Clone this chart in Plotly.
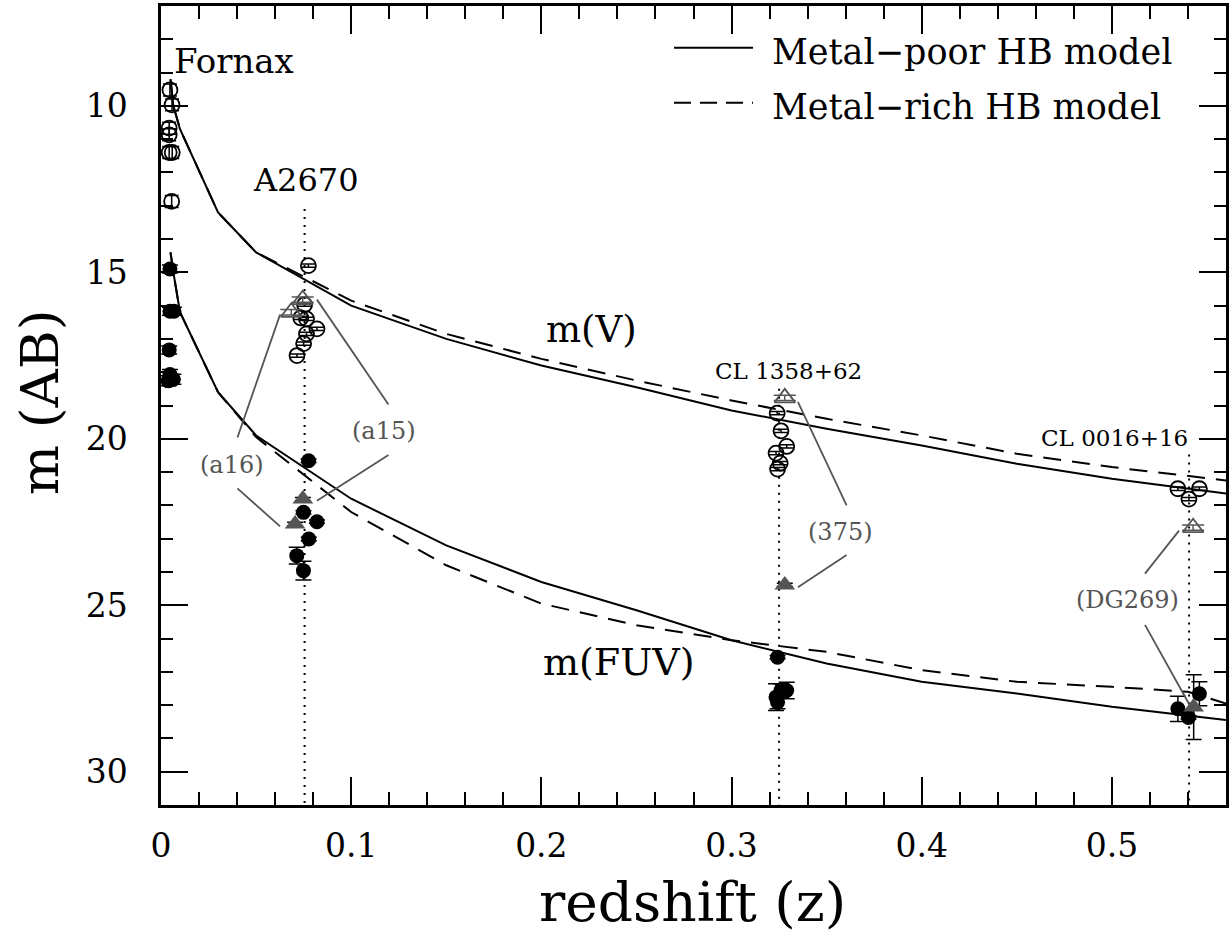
import plotly.graph_objects as go

# ---------------- data ----------------
# HB models (apparent AB magnitude vs redshift)
model_z = [0.005, 0.0065, 0.01, 0.03, 0.05, 0.1, 0.15, 0.2, 0.25, 0.3, 0.35, 0.4, 0.45, 0.5, 0.56]
v_poor = [9.2, 10.0, 10.7, 13.2, 14.4, 16.0, 17.0, 17.8, 18.45, 19.15, 19.7, 20.2, 20.75, 21.2, 21.64]
v_rich = [9.2, 10.0, 10.7, 13.2, 14.4, 15.85, 16.85, 17.6, 18.25, 18.85, 19.4, 19.9, 20.45, 20.85, 21.25]
fuv_poor = [14.4, 15.0, 16.2, 18.6, 19.9, 21.8, 23.2, 24.3, 25.15, 26.05, 26.75, 27.3, 27.65, 28.05, 28.45]
rich_fuv_z = [0.005, 0.0065, 0.01, 0.03, 0.05, 0.1, 0.15, 0.2, 0.25, 0.3, 0.35, 0.4, 0.45, 0.5, 0.54, 0.56]
fuv_rich = [14.4, 15.0, 16.2, 18.6, 19.95, 22.2, 23.8, 24.95, 25.6, 26.05, 26.4, 26.95, 27.3, 27.45, 27.6, 27.95]

# Observed V (open circles)
obs_v_z = [0.0047, 0.0058, 0.0043, 0.0043, 0.0043, 0.0059, 0.0056,
           0.0775, 0.0755, 0.0735, 0.0765, 0.082, 0.0765, 0.075, 0.0715,
           0.324, 0.326, 0.329, 0.3234, 0.3256, 0.3242,
           0.5347, 0.546, 0.5405]
obs_v_m = [9.52, 9.97, 10.67, 10.87, 11.4, 11.4, 12.87,
           14.8, 15.97, 16.37, 16.4, 16.7, 16.85, 17.14, 17.5,
           19.23, 19.76, 20.23, 20.43, 20.73, 20.91,
           21.5, 21.5, 21.81]
obs_v_err = [0.18, 0.18, 0.18, 0.18, 0.18, 0.18, 0.18,
             0.05, 0.05, 0.05, 0.05, 0.05, 0.05, 0.05, 0.05,
             0.05, 0.05, 0.05, 0.05, 0.05, 0.05,
             0.05, 0.05, 0.05]

# Observed FUV (filled circles)
obs_fuv_z = [0.0047, 0.0047, 0.0068, 0.0043, 0.0047, 0.0038, 0.0065,
             0.0776, 0.0749, 0.082, 0.0777, 0.0714, 0.0749,
             0.3242, 0.326, 0.329, 0.3234, 0.3242,
             0.5347, 0.546, 0.5403]
obs_fuv_m = [14.9, 16.17, 16.17, 17.33, 18.07, 18.26, 18.21,
             20.66, 22.21, 22.49, 23.01, 23.51, 23.96,
             26.56, 27.56, 27.56, 27.76, 27.91,
             28.11, 27.66, 28.37]
obs_fuv_err = [0.12, 0.12, 0.12, 0.12, 0.15, 0.15, 0.15,
               0.05, 0.05, 0.05, 0.05, 0.25, 0.28,
               0.05, 0.2, 0.25, 0.4, 0.2,
               0.38, 0.36, 0.05]

# Individual galaxies (a16, a15, 375, DG269): V open triangles, FUV filled triangles
tri_names = ["a16", "a15", "375", "DG269"]
tri_z = [0.0685, 0.0745, 0.328, 0.5427]
tri_v = [16.2, 15.82, 18.77, 22.67]
tri_v_err = [0.08, 0.08, 0.08, 0.08]
tri_fuv_z = [0.0705, 0.0746, 0.328, 0.543]
tri_fuv = [22.56, 21.81, 24.39, 28.06]
tri_fuv_err = [0.05, 0.05, 0.05, 0.97]

# Clusters marked with dotted lines
cluster_names = ["A2670", "CL 1358+62", "CL 0016+16"]
cluster_z = [0.0755, 0.325, 0.5406]
cluster_line_top = [13.1, 18.5, 20.47]

# ---------------- figure ----------------
FONT = "DejaVu Serif"
GRAY = "#555555"
fig = go.Figure()

fig.add_trace(go.Scatter(x=model_z, y=v_poor, mode="lines",
                         line=dict(color="black", width=2), showlegend=False))
fig.add_trace(go.Scatter(x=model_z, y=v_rich, mode="lines",
                         line=dict(color="black", width=2, dash="18px,11px"), showlegend=False))
fig.add_trace(go.Scatter(x=model_z, y=fuv_poor, mode="lines",
                         line=dict(color="black", width=2), showlegend=False))
fig.add_trace(go.Scatter(x=rich_fuv_z, y=fuv_rich, mode="lines",
                         line=dict(color="black", width=2, dash="18px,11px"), showlegend=False))

# cluster dotted lines
for z, top in zip(cluster_z, cluster_line_top):
    fig.add_trace(go.Scatter(x=[z, z], y=[top, 31.0], mode="lines",
                             line=dict(color="black", width=2, dash="2px,6px"),
                             showlegend=False))

fig.add_trace(go.Scatter(x=obs_v_z, y=obs_v_m, mode="markers",
                         marker=dict(symbol="circle-open", size=15, color="black",
                                     line=dict(width=1.8)),
                         error_y=dict(type="data", array=obs_v_err, color="black",
                                      thickness=1.5, width=7),
                         showlegend=False))
fig.add_trace(go.Scatter(x=obs_fuv_z, y=obs_fuv_m, mode="markers",
                         marker=dict(symbol="circle", size=15, color="black"),
                         error_y=dict(type="data", array=obs_fuv_err, color="black",
                                      thickness=1.5, width=8),
                         showlegend=False))
fig.add_trace(go.Scatter(x=tri_z, y=tri_v, mode="markers",
                         marker=dict(symbol="triangle-up-open", size=18, color=GRAY,
                                     line=dict(width=1.8)),
                         error_y=dict(type="data", array=tri_v_err, color=GRAY,
                                      thickness=1.5, width=11),
                         showlegend=False))
fig.add_trace(go.Scatter(x=tri_fuv_z, y=tri_fuv, mode="markers",
                         marker=dict(symbol="triangle-up", size=18, color=GRAY),
                         error_y=dict(type="data", array=tri_fuv_err, color="black",
                                      thickness=1.5, width=8),
                         showlegend=False))

# pointer lines from labels to galaxies
pointers = [
    (0.0402, 19.96, 0.0626, 16.27), (0.0402, 21.49, 0.0626, 22.63),
    (0.1196, 18.97, 0.082, 15.82), (0.1196, 20.49, 0.082, 21.86),
    (0.3605, 22.0, 0.3349, 18.89), (0.3605, 23.49, 0.3349, 24.46),
    (0.5174, 24.05, 0.5353, 22.76), (0.5174, 25.59, 0.5405, 27.96),
]
shapes = []
for x0, y0, x1, y1 in pointers:
    shapes.append(dict(type="line", xref="x", yref="y", x0=x0, y0=y0, x1=x1, y1=y1,
                       line=dict(color=GRAY, width=1.8)))

# legend drawn manually
shapes.append(dict(type="line", xref="paper", yref="paper", x0=0.4817, x1=0.5559,
                   y0=0.9476, y1=0.9476, line=dict(color="black", width=2)))
shapes.append(dict(type="line", xref="paper", yref="paper", x0=0.4817, x1=0.5559,
                   y0=0.879, y1=0.879, line=dict(color="black", width=2, dash="17px,9px")))

annotations = []
def ann(text, x, y, size, color="black", xanchor="center", xref="x", yref="y", angle=0):
    annotations.append(dict(text=text, x=x, y=y, xref=xref, yref=yref, showarrow=False,
                            xanchor=xanchor, yanchor="middle", textangle=angle,
                            font=dict(family=FONT, size=size, color=color)))

ann("Metal\u2212poor HB model", 0.5718, 0.942, 35, xanchor="left", xref="paper", yref="paper")
ann("Metal\u2212rich HB model", 0.5718, 0.873, 35, xanchor="left", xref="paper", yref="paper")
ann("Fornax", 0.0058, 8.65, 34, xanchor="left")
ann(cluster_names[0], 0.0763, 12.23, 32)
ann(cluster_names[1], 0.330, 17.96, 23)
ann(cluster_names[2], 0.5016, 19.99, 23)
ann("m(V)", 0.2263, 16.73, 37)
ann("m(FUV)", 0.241, 26.71, 38)
label_pos = [(0.0374, 20.8), (0.1174, 19.78), (0.3574, 22.81), (0.5084, 24.85)]
for name, (lx, ly) in zip(tri_names, label_pos):
    ann("(" + name + ")", lx, ly, 24, color=GRAY)
ann("redshift (z)", 0.4986, -0.122, 55, xref="paper", yref="paper")
ann("m (AB)", -0.1146, 0.504, 53, xref="paper", yref="paper", angle=-90)

axis_common = dict(showline=True, linecolor="black", linewidth=2.5, mirror="allticks",
                   ticks="inside", tickcolor="black", tickwidth=1.8, showgrid=False,
                   zeroline=False, tickfont=dict(family=FONT, size=33, color="black"))

fig.update_layout(
    width=1232, height=939,
    margin=dict(l=161, r=6, t=3, b=134),
    paper_bgcolor="white", plot_bgcolor="white",
    showlegend=False,
    shapes=shapes, annotations=annotations,
    xaxis=dict(range=[0, 0.56], tickmode="array",
               tickvals=[0, 0.1, 0.2, 0.3, 0.4, 0.5],
               ticktext=["0", "0.1", "0.2", "0.3", "0.4", "0.5"],
               ticklen=28, ticklabelstandoff=10,
               minor=dict(dtick=0.02, tick0=0, ticks="inside", ticklen=13,
                          tickcolor="black", tickwidth=1.8, showgrid=False),
               **axis_common),
    yaxis=dict(range=[31.0, 7.0], tickmode="array",
               tickvals=[10, 15, 20, 25, 30],
               ticktext=["10", "15", "20", "25", "30"],
               ticklen=27, ticklabelstandoff=24,
               minor=dict(dtick=1, tick0=0, ticks="inside", ticklen=12,
                          tickcolor="black", tickwidth=1.8, showgrid=False),
               **axis_common),
)

fig.write_html("out.html", config={"displayModeBar": False},
               post_script="document.body.style.margin='0';")
